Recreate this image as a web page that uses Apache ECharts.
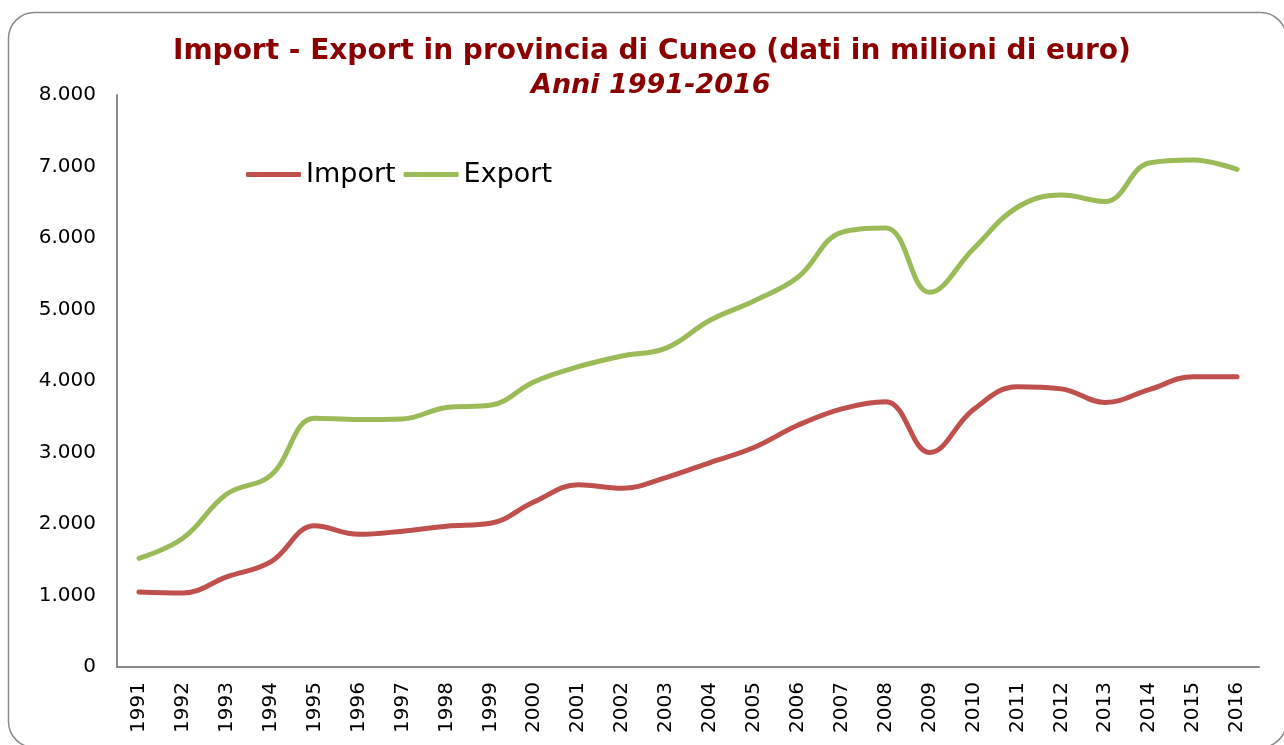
<!DOCTYPE html>
<html>
<head>
<meta charset="utf-8">
<script src="https://cdn.jsdelivr.net/npm/echarts@6/dist/echarts.min.js"></script>
<style>
  html, body { margin: 0; padding: 0; background: #fff; }
  #chart { width: 1284px; height: 745px; }
</style>
</head>
<body>
<div id="chart"></div>
<script>
// anni
const years = ['1991', '1992', '1993', '1994', '1995', '1996', '1997', '1998', '1999', '2000',
  '2001', '2002', '2003', '2004', '2005', '2006', '2007', '2008', '2009', '2010',
  '2011', '2012', '2013', '2014', '2015', '2016'];

// milioni di euro
const importValues = [1050, 1035, 1260, 1470, 1975, 1855, 1900, 1970, 2010, 2310,
  2550, 2500, 2650, 2860, 3070, 3380, 3610, 3710, 3000, 3600,
  3920, 3890, 3700, 3880, 4060, 4060];
const exportValues = [1520, 1800, 2420, 2680, 3480, 3460, 3470, 3630, 3660, 3990,
  4200, 4350, 4460, 4850, 5120, 5450, 6080, 6140, 5240, 5850,
  6430, 6600, 6510, 7050, 7090, 6960];

const chart = echarts.init(document.getElementById('chart'));

// numeri con il punto come separatore delle migliaia
const fmt = v => String(v).replace(/\B(?=(\d{3})+(?!\d))/g, '.');

const option = {
  animation: false,
  textStyle: { fontFamily: 'DejaVu Sans' },
  graphic: [{
    type: 'rect',
    shape: { x: 8.5, y: 12.5, width: 1278, height: 735, r: 26 },
    style: { fill: 'none', stroke: '#8a8a8a', lineWidth: 1.5 },
    silent: true
  }],
  title: [
    {
      text: 'Import - Export in provincia di Cuneo (dati in milioni di euro)',
      left: 168,
      top: 33,
      textStyle: { color: '#8b0000', fontSize: 28, fontWeight: 'bold', fontFamily: 'DejaVu Sans' }
    },
    {
      text: 'Anni 1991-2016',
      left: 526,
      top: 67,
      textStyle: { color: '#8b0000', fontSize: 27, fontWeight: 'bold', fontStyle: 'italic', fontFamily: 'DejaVu Sans' }
    }
  ],
  legend: {
    left: 241,
    top: 156,
    icon: 'roundRect',
    itemWidth: 55,
    itemHeight: 5,
    itemGap: 8,
    textStyle: { fontSize: 27, color: '#000', fontFamily: 'DejaVu Sans' },
    data: ['Import', 'Export']
  },
  grid: { left: 117, right: 25, top: 95, bottom: 78 },
  xAxis: {
    type: 'category',
    data: years,
    boundaryGap: true,
    axisLine: { lineStyle: { color: '#888', width: 2 } },
    axisTick: { show: false },
    axisLabel: { rotate: 90, fontSize: 20, color: '#000', margin: 15, interval: 0 }
  },
  yAxis: {
    type: 'value',
    min: 0,
    max: 8000,
    interval: 1000,
    axisLine: { show: true, lineStyle: { color: '#888', width: 2 } },
    axisTick: { show: false },
    splitLine: { show: false },
    axisLabel: { fontSize: 20, color: '#000', margin: 21, formatter: fmt }
  },
  series: [
    {
      name: 'Import',
      type: 'line',
      data: importValues,
      smooth: 0.4,
      symbol: 'none',
      itemStyle: { color: '#c0504d' },
      lineStyle: { color: '#c0504d', width: 5, cap: 'round' }
    },
    {
      name: 'Export',
      type: 'line',
      data: exportValues,
      smooth: 0.4,
      symbol: 'none',
      itemStyle: { color: '#9bbb59' },
      lineStyle: { color: '#9bbb59', width: 5, cap: 'round' }
    }
  ]
};

chart.setOption(option);
</script>
</body>
</html>
